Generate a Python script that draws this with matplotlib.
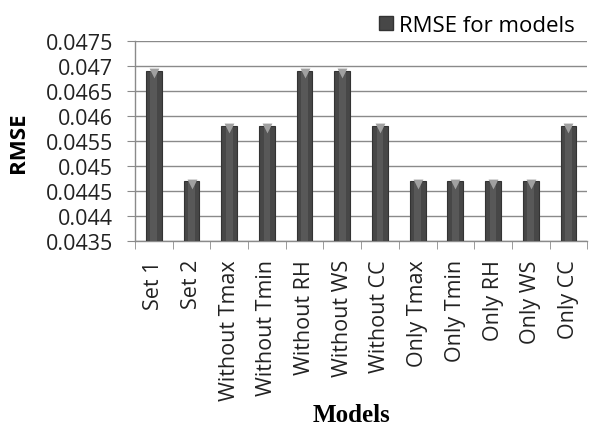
import numpy as np
import matplotlib.pyplot as plt
from matplotlib.patches import Patch

# RMSE of each input-variable combination
models = ["Set 1", "Set 2", "Without Tmax", "Without Tmin", "Without RH",
          "Without WS", "Without CC", "Only Tmax", "Only Tmin", "Only RH",
          "Only WS", "Only CC"]
rmse = [0.0469, 0.0447, 0.0458, 0.0458, 0.0469, 0.0469, 0.0458,
        0.0447, 0.0447, 0.0447, 0.0447, 0.0458]
yticks = [0.0435, 0.044, 0.0445, 0.045, 0.0455, 0.046, 0.0465, 0.047, 0.0475]


def main():
    fig = plt.figure(figsize=(5.92, 4.27), dpi=100)
    ax = fig.add_axes([0.228, 0.433, 0.764, 0.469])

    x = np.arange(len(models))
    ax.bar(x, rmse, width=0.42, color="#474747",
           edgecolor="#333333", linewidth=0.8, zorder=3)
    # lighter stripe down the middle of each bar
    ax.bar(x, rmse, width=0.18, color="#585858", linewidth=0, zorder=3)
    # little cone tip at the top of each bar
    ax.scatter(x, np.array(rmse) - 0.00005, marker="v", s=50,
               color="#a0a0a0", linewidth=0, zorder=4)

    ax.set_ylim(0.0435, 0.0475)
    ax.set_xlim(-0.5, len(models) - 0.5)
    ax.set_yticks(yticks)
    ax.set_yticklabels([f"{v:g}" for v in yticks], fontsize=15.5,
                       family="Open Sans", color="#222222")
    ax.set_xticks(x)
    ax.set_xticklabels(models, rotation=90, fontsize=15.5,
                       family="Open Sans", color="#222222")
    ax.tick_params(axis="x", length=0, pad=13)
    ax.tick_params(axis="y", length=6, color="#8a8a8a", pad=10)
    # category separator ticks below the axis
    ax.set_xticks(np.arange(len(models) + 1) - 0.5, minor=True)
    ax.tick_params(axis="x", which="minor", length=6, color="#8a8a8a")

    ax.grid(axis="y", color="#8a8a8a", linewidth=1.0, zorder=0)
    for side in ["top", "right"]:
        ax.spines[side].set_visible(False)
    for side in ["left", "bottom"]:
        ax.spines[side].set_color("#8a8a8a")
        ax.spines[side].set_linewidth(1.0)

    fig.text(0.032, 0.667, "RMSE", fontsize=16, fontweight="bold",
             family="Open Sans", rotation=90, ha="center", va="center")
    fig.text(0.593, 0.028, "Models", fontsize=18, fontweight="bold",
             family="Liberation Serif", ha="center", va="center")

    handle = Patch(facecolor="#474747", edgecolor="#333333")
    fig.legend([handle], ["RMSE for models"], loc="upper right",
               bbox_to_anchor=(1.005, 1.01), frameon=False,
               prop={"family": "Open Sans", "size": 16},
               handlelength=0.6, handleheight=0.6, handletextpad=0.3)

    fig.savefig("out.png", dpi=100)


if __name__ == "__main__":
    main()
